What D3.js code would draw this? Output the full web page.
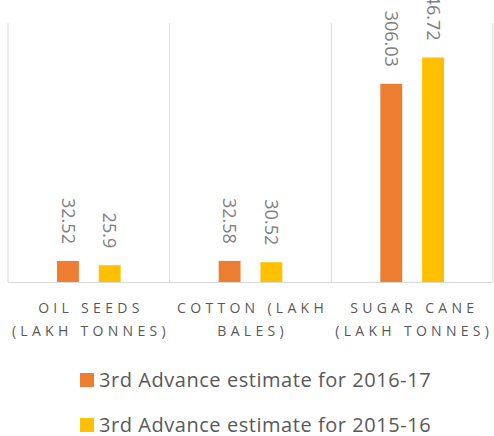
<!DOCTYPE html>
<html>
<head>
<meta charset="utf-8">
<script src="https://cdn.jsdelivr.net/npm/d3@7"></script>
<style>
  body { margin: 0; background: #fff; }
  text { font-family: "Open Sans", "Liberation Sans", sans-serif; }
</style>
</head>
<body>
<div id="chart"></div>
<script>
// data
var categories = ["Oil Seeds (Lakh Tonnes)", "Cotton (Lakh Bales)", "Sugar Cane (Lakh Tonnes)"];
var categoryLines = [["OIL SEEDS", "(LAKH TONNES)"], ["COTTON (LAKH", "BALES)"], ["SUGAR CANE", "(LAKH TONNES)"]];
var seriesNames = ["3rd Advance estimate for 2016-17", "3rd Advance estimate for 2015-16"];
var est2016 = [32.52, 32.58, 306.03];
var est2015 = [25.9, 30.52, 346.72];
var colors = ["#ED7D31", "#FFC000"];

function init() {
    var w = 494;
    var h = 436;
    var left = 8, right = 493, top = 23, bottom = 282;

    var svg = d3.select("#chart")
        .append("svg")
        .attr("width", w)
        .attr("height", h);

    var x0 = d3.scaleBand()
        .domain(categories)
        .range([left, right])
        .paddingInner(0)
        .paddingOuter(0);

    var x1 = d3.scaleBand()
        .domain(seriesNames)
        .range([49, x0.bandwidth() - 49])
        .paddingInner(20 / 42)
        .paddingOuter(0);

    var y = d3.scaleLinear()
        .domain([0, 400])
        .range([bottom, top]);

    // vertical gridlines at category borders
    var borders = categories.map(function(c) { return x0(c); }).concat([right]);
    svg.selectAll("line.grid")
        .data(borders)
        .enter()
        .append("line")
        .attr("class", "grid")
        .attr("x1", function(d) { return d; })
        .attr("x2", function(d) { return d; })
        .attr("y1", top)
        .attr("y2", bottom)
        .attr("stroke", "#d9d9d9")
        .attr("stroke-width", 1);

    // baseline
    svg.append("line")
        .attr("x1", left)
        .attr("x2", right)
        .attr("y1", y(0) + 0.5)
        .attr("y2", y(0) + 0.5)
        .attr("stroke", "#d9d9d9")
        .attr("stroke-width", 1);

    var rows = categories.map(function(c, i) {
        return { cat: c, vals: [est2016[i], est2015[i]] };
    });

    var groups = svg.selectAll("g.cat")
        .data(rows)
        .enter()
        .append("g")
        .attr("class", "cat")
        .attr("transform", function(d) { return "translate(" + x0(d.cat) + ",0)"; });

    groups.selectAll("rect")
        .data(function(d) {
            return d.vals.map(function(v, j) { return { s: seriesNames[j], v: v, j: j }; });
        })
        .enter()
        .append("rect")
        .attr("x", function(d) { return x1(d.s); })
        .attr("y", function(d) { return y(d.v); })
        .attr("width", x1.bandwidth())
        .attr("height", function(d) { return y(0) - y(d.v); })
        .attr("fill", function(d) { return colors[d.j]; });

    // rotated value labels
    groups.selectAll("text.val")
        .data(function(d) {
            return d.vals.map(function(v, j) { return { s: seriesNames[j], v: v }; });
        })
        .enter()
        .append("text")
        .attr("class", "val")
        .attr("transform", function(d) {
            return "translate(" + (x1(d.s) + x1.bandwidth() / 2) + "," + (y(d.v) - 17) + ") rotate(90)";
        })
        .attr("text-anchor", "end")
        .attr("dy", "0.35em")
        .attr("font-size", "18px")
        .attr("fill", "#808080")
        .text(function(d) { return d.v; });

    // category labels
    groups.append("text")
        .attr("text-anchor", "middle")
        .attr("font-size", "14px")
        .attr("letter-spacing", "4.3px")
        .attr("fill", "#595959")
        .selectAll("tspan")
        .data(function(d, i) { return categoryLines[i]; })
        .enter()
        .append("tspan")
        .attr("x", x0.bandwidth() / 2 + 2.1)
        .attr("y", function(d, i) { return 313 + i * 23; })
        .text(function(d) { return d; });

    // legend
    var legend = svg.selectAll("g.legend")
        .data(seriesNames)
        .enter()
        .append("g")
        .attr("class", "legend")
        .attr("transform", function(d, i) { return "translate(80," + (373 + i * 45) + ")"; });

    legend.append("rect")
        .attr("width", 14)
        .attr("height", 14)
        .attr("fill", function(d, i) { return colors[i]; });

    legend.append("text")
        .attr("x", 19)
        .attr("y", 14)
        .attr("font-size", "20px")
        .attr("letter-spacing", "0.55px")
        .attr("fill", "#595959")
        .text(function(d) { return d; });
}
window.onload = init;
</script>
</body>
</html>
